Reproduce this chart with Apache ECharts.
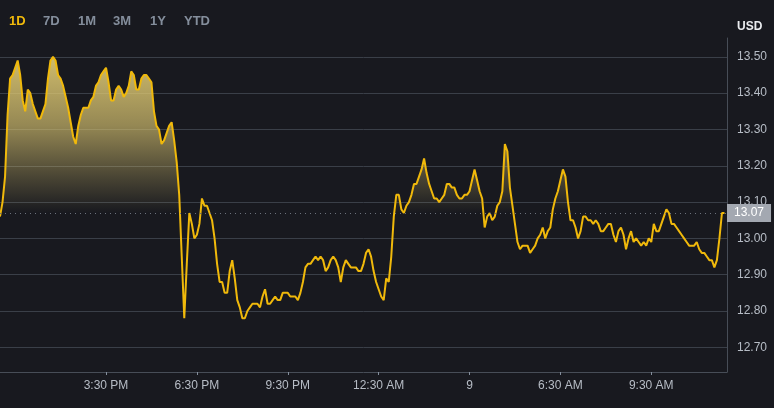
<!DOCTYPE html>
<html><head><meta charset="utf-8">
<script src="https://cdn.jsdelivr.net/npm/echarts@6/dist/echarts.min.js"></script>
<style>html,body{margin:0;padding:0;background:#18191f;}#c{width:774px;height:408px;}</style>
</head><body><div id="c"></div>
<script>
// 5-minute samples starting 12:00 (day 8)
const categories = [];
for (let m = 12 * 60; m <= 36 * 60; m += 5) {
  const h = Math.floor(m / 60) % 24, mm = m % 60;
  categories.push(String(h).padStart(2, '0') + ':' + String(mm).padStart(2, '0'));
}
const prices = [
13.06,13.10,13.17,13.34,13.44,13.45,13.47,13.49,13.45,13.38,
13.35,13.41,13.40,13.37,13.35,13.33,13.33,13.35,13.37,13.44,
13.49,13.50,13.49,13.45,13.44,13.42,13.39,13.36,13.32,13.28,
13.26,13.31,13.34,13.36,13.36,13.36,13.38,13.39,13.42,13.43,
13.45,13.46,13.47,13.43,13.38,13.38,13.41,13.42,13.41,13.39,
13.40,13.42,13.46,13.45,13.41,13.41,13.44,13.45,13.45,13.44,
13.43,13.35,13.31,13.30,13.26,13.27,13.29,13.31,13.32,13.27,
13.21,13.12,12.95,12.78,12.93,13.07,13.04,13.00,13.01,13.04,
13.11,13.09,13.09,13.07,13.05,13.00,12.93,12.88,12.88,12.85,
12.85,12.91,12.94,12.89,12.83,12.81,12.78,12.78,12.80,12.81,
12.82,12.82,12.82,12.81,12.84,12.86,12.82,12.82,12.83,12.84,
12.83,12.83,12.85,12.85,12.85,12.84,12.84,12.84,12.83,12.85,
12.88,12.92,12.93,12.93,12.94,12.95,12.94,12.95,12.94,12.91,
12.92,12.94,12.95,12.94,12.92,12.88,12.92,12.94,12.93,12.92,
12.92,12.92,12.91,12.91,12.93,12.96,12.97,12.95,12.91,12.88,
12.86,12.84,12.83,12.89,12.88,12.95,13.06,13.12,13.12,13.08,
13.07,13.09,13.10,13.12,13.15,13.15,13.17,13.19,13.22,13.18,
13.15,13.13,13.11,13.11,13.10,13.11,13.12,13.15,13.15,13.14,
13.14,13.12,13.11,13.11,13.12,13.12,13.13,13.16,13.19,13.16,
13.13,13.11,13.03,13.06,13.07,13.05,13.06,13.09,13.10,13.13,
13.26,13.24,13.14,13.09,13.04,12.99,12.97,12.98,12.98,12.98,
12.96,12.97,12.98,13.00,13.01,13.03,13.00,13.02,13.03,13.08,
13.11,13.13,13.16,13.19,13.17,13.10,13.05,13.05,13.03,13.00,
13.02,13.06,13.06,13.05,13.05,13.04,13.05,13.04,13.02,13.02,
13.03,13.04,13.04,13.01,12.99,13.02,13.03,13.01,12.97,13.00,
13.02,12.99,13.00,12.99,12.98,12.99,12.98,13.00,12.99,13.04,
13.02,13.02,13.04,13.06,13.08,13.07,13.04,13.04,13.03,13.02,
13.01,13.00,12.99,12.98,12.98,12.98,12.99,12.97,12.96,12.96,
12.95,12.94,12.94,12.92,12.94,13.00,13.07,13.07
];
const baseline = 13.07;
const tickTimes = ['15:30','18:30','21:30','00:30','03:30','06:30','09:30'];
const tickLabels = ['3:30 PM','6:30 PM','9:30 PM','12:30 AM','9','6:30 AM','9:30 AM'];
const tabs = ['1D','7D','1M','3M','1Y','YTD'];
const currency = 'USD';

const tickIdx = tickTimes.map(t => categories.indexOf(t));
const tabX = [9, 43, 78, 113, 150, 184];
const FONT = '"Liberation Sans", Arial, sans-serif';
const Y_MIN = 12.632, Y_MAX = 13.552;

const chart = echarts.init(document.getElementById('c'));
function areaGradient(topPx, basePx) {
  return {
    type: 'linear', global: true, x: 0, y: topPx, x2: 0, y2: basePx,
    colorStops: [
      { offset: 0, color: 'rgba(226,204,116,0.96)' },
      { offset: 0.15, color: 'rgba(226,204,116,0.88)' },
      { offset: 0.5, color: 'rgba(226,204,116,0.62)' },
      { offset: 0.8, color: 'rgba(226,204,116,0.24)' },
      { offset: 1, color: 'rgba(226,204,116,0)' }
    ]
  };
}
chart.setOption({
  animation: false,
  backgroundColor: '#18191f',
  grid: { left: -1, right: 47, top: 38, bottom: 36 },
  graphic: tabs.map((t, k) => ({
    type: 'text', left: tabX[k], top: 15,
    style: { text: t, fill: k === 0 ? '#f0b90b' : '#848e9c', font: 'bold 13px ' + FONT }
  })).concat([{
    type: 'text', left: 737, top: 21,
    style: { text: currency, fill: '#eaecef', font: 'bold 12px ' + FONT }
  }]),
  xAxis: {
    type: 'category', data: categories, boundaryGap: false,
    axisLine: { show: true, lineStyle: { color: '#474d57' } },
    axisTick: { show: true, interval: i => tickIdx.includes(i), length: 3, lineStyle: { color: '#848e9c' } },
    axisLabel: {
      interval: i => tickIdx.includes(i),
      formatter: (v, i) => tickLabels[tickIdx.indexOf(i)],
      color: '#b7bdc6', fontSize: 12, margin: 8, fontFamily: FONT
    },
    splitLine: { show: false }
  },
  yAxis: {
    type: 'value', position: 'right', min: Y_MIN, max: Y_MAX, splitNumber: 9,
    axisLine: { show: true, lineStyle: { color: '#474d57' } },
    axisTick: { show: false },
    axisLabel: {
      color: '#b7bdc6', fontSize: 12, margin: 10, fontFamily: FONT,
      showMinLabel: false, showMaxLabel: false,
      formatter: v => v.toFixed(2)
    },
    splitLine: { show: true, showMinLine: false, showMaxLine: false, lineStyle: { color: '#3a3f48', width: 1 } }
  },
  series: [{
    type: 'line', data: prices, symbol: 'none', smooth: false,
    lineStyle: { color: '#f0b90b', width: 2 },
    areaStyle: { origin: baseline, opacity: 1, color: 'rgba(0,0,0,0)' },
    markLine: {
      silent: true, symbol: ['none', 'none'],
      lineStyle: { type: [1, 4], color: '#6b717c', width: 1 },
      label: {
        position: 'end', distance: 0, formatter: () => baseline.toFixed(2),
        backgroundColor: '#a3a8b1', color: '#ffffff', fontSize: 12, fontFamily: FONT,
        padding: [3, 7, 3, 7]
      },
      data: [{ yAxis: baseline }]
    }
  }]
});
const topPx = chart.convertToPixel({ yAxisIndex: 0 }, Y_MAX);
const basePx = chart.convertToPixel({ yAxisIndex: 0 }, baseline);
chart.setOption({ series: [{ areaStyle: { origin: baseline, opacity: 1, color: areaGradient(topPx, basePx) } }] });
</script></body></html>
